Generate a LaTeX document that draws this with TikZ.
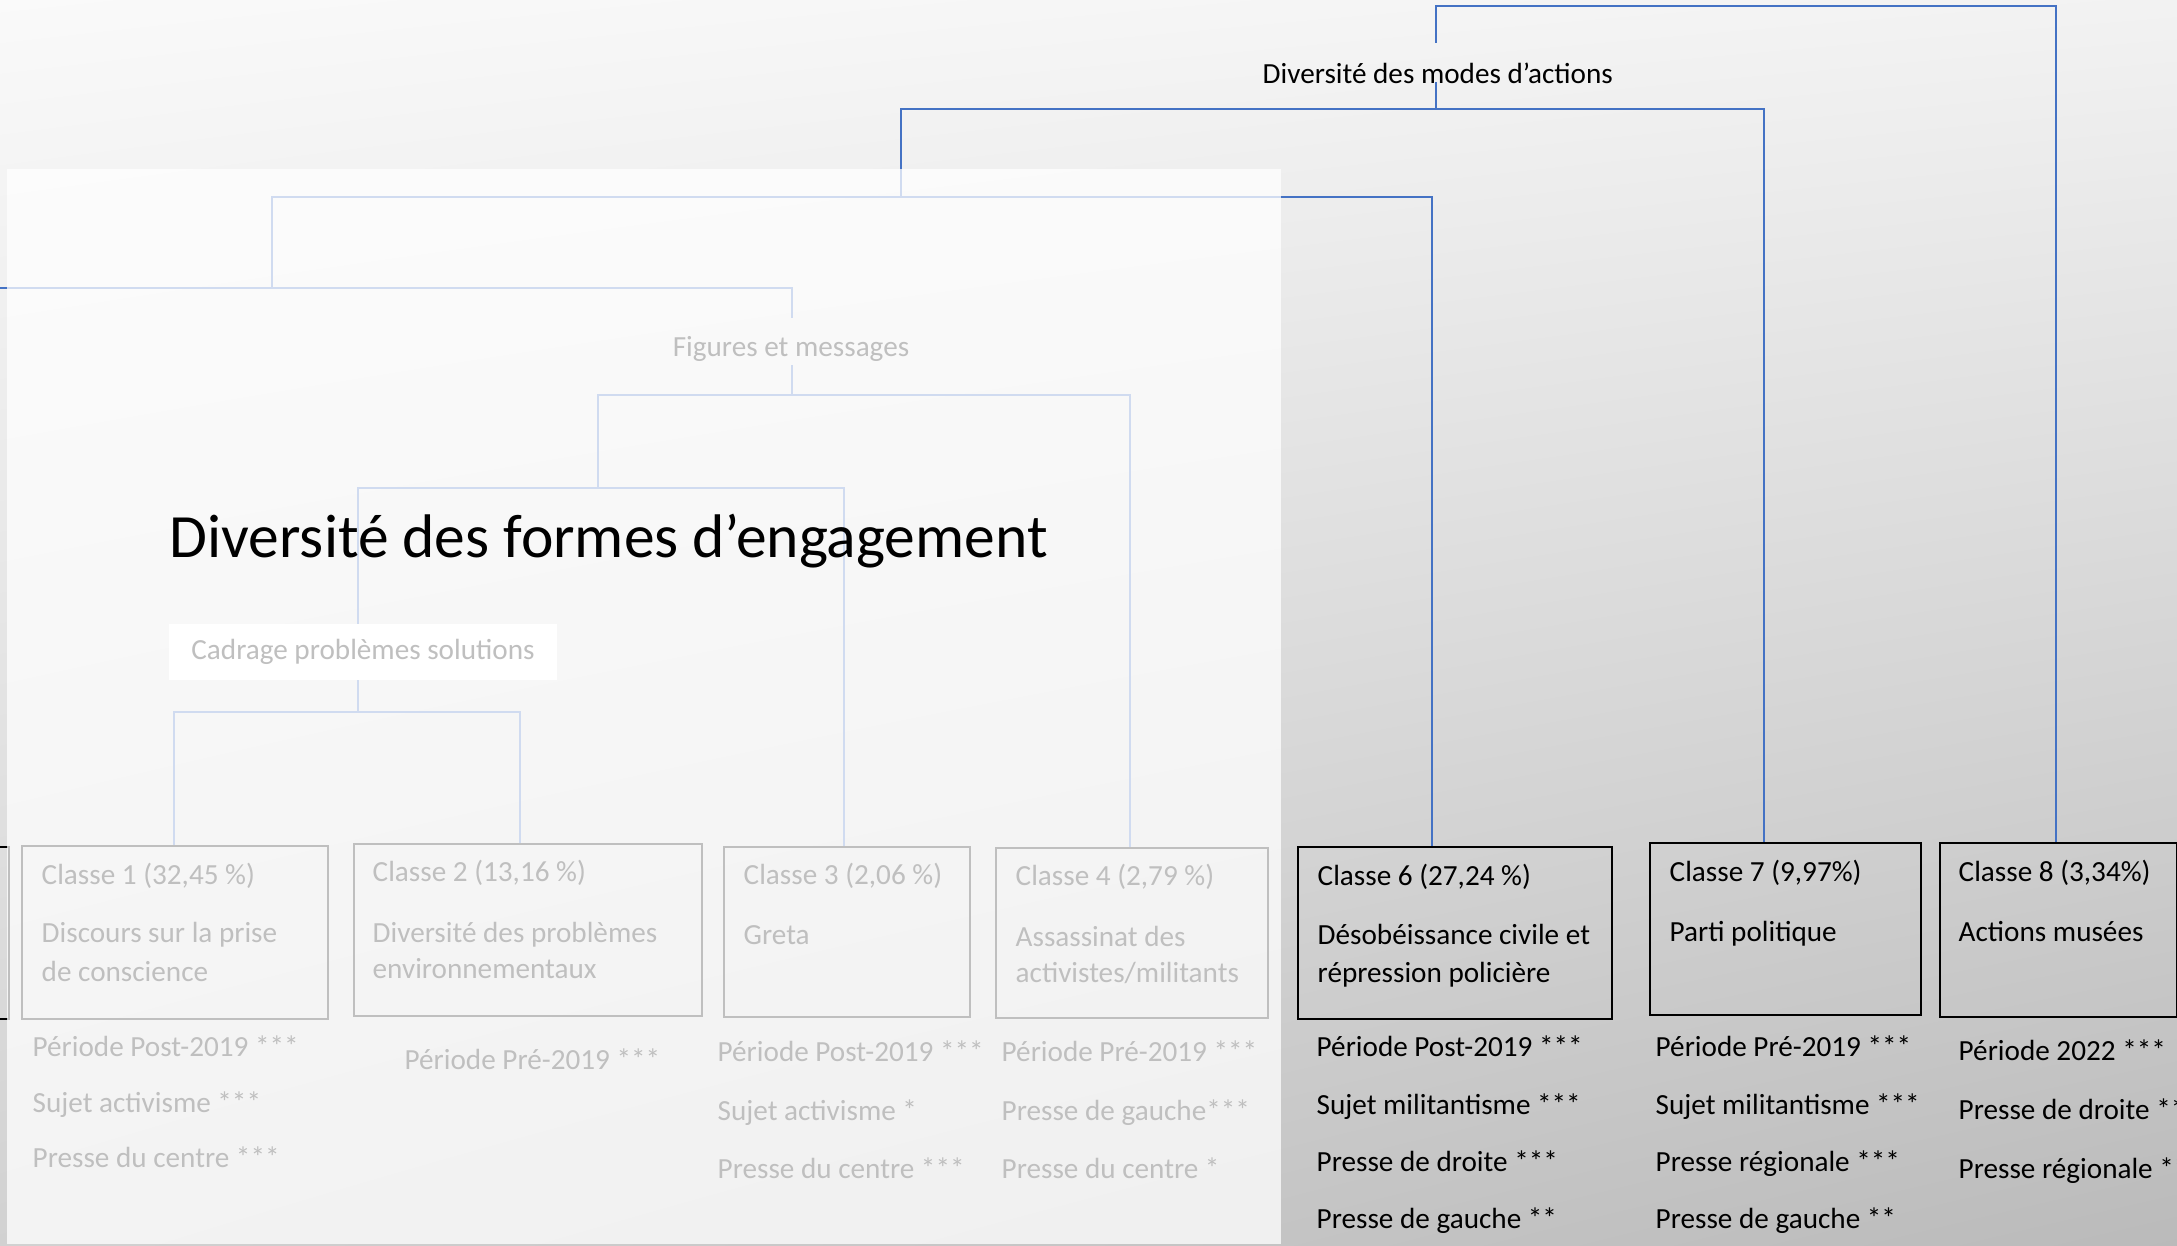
\documentclass[tikz,border=0pt]{standalone}
\usepackage{fontspec}
\setmainfont{Carlito}
\usetikzlibrary{shadings}
\definecolor{linkblue}{HTML}{4472C4}

\begin{document}
\begin{tikzpicture}[x=0.01cm,y=-0.01cm,
    every node/.style={font=\fontsize{8.3}{10}\selectfont,inner sep=0pt},
    link/.style={draw=linkblue,line width=0.45pt},
    classbox/.style={draw=black,line width=0.45pt,anchor=north west},
    boxtext/.style={anchor=base west},
    tag/.style={anchor=base west}]
    \useasboundingbox (0,0) rectangle (2177,1246);
    \clip (0,0) rectangle (2177,1246);
    \shade[upper left=white!98!black,upper right=white!95!black,
           lower left=white!82!black,lower right=white!73!black] (0,0) rectangle (2177,1246);

    % classes
    \node[classbox,minimum width=1cm,minimum height=1.72cm]     (classe5) at (-92,846)  {};
    \node[classbox,minimum width=3.06cm,minimum height=1.73cm]  (classe1) at (21,845)   {};
    \node[classbox,minimum width=3.48cm,minimum height=1.72cm]  (classe2) at (353,843)  {};
    \node[classbox,minimum width=2.46cm,minimum height=1.70cm]  (classe3) at (723,846)  {};
    \node[classbox,minimum width=2.72cm,minimum height=1.70cm]  (classe4) at (995,847)  {};
    \node[classbox,minimum width=3.14cm,minimum height=1.72cm]  (classe6) at (1297,846) {};
    \node[classbox,minimum width=2.71cm,minimum height=1.72cm]  (classe7) at (1649,842) {};
    \node[classbox,minimum width=2.37cm,minimum height=1.74cm]  (classe8) at (1939,842) {};

    \node[boxtext] (head1)  at ([shift={(20,40)}]classe1.north west)  {Classe 1 (32,45 \%)};
    \node[boxtext] (body1a) at ([shift={(20,98)}]classe1.north west)  {Discours sur la prise};
    \node[boxtext] (body1b) at ([shift={(20,137)}]classe1.north west) {de conscience};
    \node[boxtext] (head2)  at ([shift={(19,39)}]classe2.north west)  {Classe 2 (13,16 \%)};
    \node[boxtext] (body2a) at ([shift={(19,100)}]classe2.north west) {Diversité des problèmes};
    \node[boxtext] (body2b) at ([shift={(19,136)}]classe2.north west) {environnementaux};
    \node[boxtext] (head3)  at ([shift={(20,39)}]classe3.north west)  {Classe 3 (2,06 \%)};
    \node[boxtext] (body3a) at ([shift={(20,99)}]classe3.north west)  {Greta};
    \node[boxtext] (head4)  at ([shift={(20,39)}]classe4.north west)  {Classe 4 (2,79 \%)};
    \node[boxtext] (body4a) at ([shift={(20,100)}]classe4.north west) {Assassinat des};
    \node[boxtext] (body4b) at ([shift={(20,136)}]classe4.north west) {activistes/militants};
    \node[boxtext] (head6)  at ([shift={(20,40)}]classe6.north west)  {Classe 6 (27,24 \%)};
    \node[boxtext] (body6a) at ([shift={(20,99)}]classe6.north west)  {Désobéissance civile et};
    \node[boxtext] (body6b) at ([shift={(20,137)}]classe6.north west) {répression policière};
    \node[boxtext] (head7)  at ([shift={(20,40)}]classe7.north west)  {Classe 7 (9,97\%)};
    \node[boxtext] (body7a) at ([shift={(20,100)}]classe7.north west) {Parti politique};
    \node[boxtext] (head8)  at ([shift={(19,40)}]classe8.north west)  {Classe 8 (3,34\%)};
    \node[boxtext] (body8a) at ([shift={(19,100)}]classe8.north west) {Actions musées};

    % variables under each class
    \foreach \t [count=\i] in {Période Post-2019 ***,Sujet activisme ***,Presse du centre ***}
        \node[tag] (tag1-\i) at (32,{1057+55.5*(\i-1)}) {\t};
    \node[tag] (tag2-1) at (404,1070) {Période Pré-2019 ***};
    \foreach \t [count=\i] in {Période Post-2019 ***,Sujet activisme *,Presse du centre ***}
        \node[tag] (tag3-\i) at (717,{1062+58.5*(\i-1)}) {\t};
    \foreach \t [count=\i] in {Période Pré-2019 ***,Presse de gauche***,Presse du centre *}
        \node[tag] (tag4-\i) at (1001,{1062+58.5*(\i-1)}) {\t};
    \foreach \t [count=\i] in {Période Post-2019 ***,Sujet militantisme ***,Presse de droite ***,Presse de gauche **}
        \node[tag] (tag6-\i) at (1316,{1057+57.3*(\i-1)}) {\t};
    \foreach \t [count=\i] in {Période Pré-2019 ***,Sujet militantisme ***,Presse régionale ***,Presse de gauche **}
        \node[tag] (tag7-\i) at (1655,{1057+57.3*(\i-1)}) {\t};
    \foreach \t [count=\i] in {Période 2022 ***,Presse de droite **,Presse régionale **}
        \node[tag] (tag8-\i) at (1958,{1061+59*(\i-1)}) {\t};

    % dendrogram
    \coordinate (ja1) at (1436,6);   \coordinate (ja2) at (2056,6);
    \coordinate (jat) at (1436,43);  \coordinate (jab) at (1436,82);
    \coordinate (jb1) at (901,109);  \coordinate (jb2) at (1764,109);  \coordinate (jbm) at (1436,109);
    \coordinate (jc1) at (272,197);  \coordinate (jc2) at (1432,197);  \coordinate (jcm) at (901,197);
    \coordinate (jd1) at (-20,288);  \coordinate (jd2) at (792,288);   \coordinate (jdm) at (272,288);
    \coordinate (jdt) at (792,318);  \coordinate (jdb) at (792,365);
    \coordinate (je1) at (598,395);  \coordinate (je2) at (1130,395);  \coordinate (jem) at (792,395);
    \coordinate (jf1) at (358,488);  \coordinate (jf2) at (844,488);   \coordinate (jfm) at (598,488);
    \coordinate (jg1) at (174,712);  \coordinate (jg2) at (520,712);   \coordinate (jgm) at (358,712);

    \draw[link] (ja2 |- classe8.north) -- (ja2) -- (ja1) -- (jat);
    \draw[link] (jab) -- (jbm);
    \draw[link] (jb2 |- classe7.north) -- (jb2) -- (jb1) -- (jcm);
    \draw[link] (jc2 |- classe6.north) -- (jc2) -- (jc1) -- (jdm);
    \draw[link] (jd1) -- (jd2) -- (jdt);
    \draw[link] (jdb) -- (jem);
    \draw[link] (je2 |- classe4.north) -- (je2) -- (je1) -- (jfm);
    \draw[link] (jf2 |- classe3.north) -- (jf2) -- (jf1) -- (jgm);
    \draw[link] (jg1 |- classe1.north) -- (jg1) -- (jg2) -- (jg2 |- classe2.north);

    \node[anchor=base west] (modes)   at (1262,84) {Diversité des modes d’actions};
    \node[anchor=base]      (figures) at (791,357) {Figures et messages};
    \node[fill=white,minimum width=3.88cm,minimum height=0.56cm] (cadrage) at (363,652) {Cadrage problèmes solutions};

    % faded part of the slide
    \fill[white,opacity=0.75] (7,169) rectangle (1281,1244);

    \node[anchor=base west,font=\fontsize{17.5}{20}\selectfont] (engagement) at (169,558) {Diversité des formes d’engagement};
\end{tikzpicture}
\end{document}
